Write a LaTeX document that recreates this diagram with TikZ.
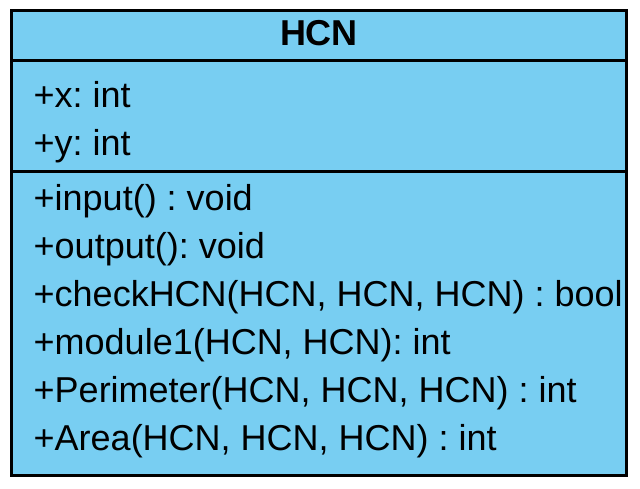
\documentclass[tikz,border=0pt]{standalone}
\usepackage{fontspec}
\setmainfont{Liberation Sans}
\frenchspacing
\definecolor{classfill}{RGB}{120,206,242}
\begin{document}
\begin{tikzpicture}[x=1pt,y=-1pt,
  member/.style={anchor=base west,inner sep=0pt,font=\fontsize{36}{43}\selectfont},
  titletext/.style={anchor=base,inner sep=0pt,font=\fontsize{36}{43}\selectfont\bfseries},
  frame/.style={draw=black,line width=3pt}]
\useasboundingbox (0,0) rectangle (640,488);
\path[fill=classfill] (11.5,10.5) rectangle (626.5,475.5);
\draw[frame] (11.5,60) -- (626.5,60);
\draw[frame] (11.5,171.5) -- (626.5,171.5);
\draw[frame] (11.5,10.5) rectangle (626.5,475.5);
\node[titletext] (title) at (319,45) {HCN};
\node[member] (ax) at (33.5,107) {\frenchspacing +x: int};
\node[member] (ay) at (33.5,155) {\frenchspacing +y: int};
\node[member] (m1) at (33.5,210) {\frenchspacing +input() : void};
\node[member] (m2) at (33.5,258) {\frenchspacing +output(): void};
\node[member] (m3) at (33.5,306) {\frenchspacing +checkHCN(HCN, HCN, HCN) : bool};
\node[member] (m4) at (33.5,354) {\frenchspacing +module1(HCN, HCN): int};
\node[member] (m5) at (33.5,402) {\frenchspacing +Perimeter(HCN, HCN, HCN) : int};
\node[member] (m6) at (33.5,450) {\frenchspacing +Area(HCN, HCN, HCN) : int};
\end{tikzpicture}
\end{document}
